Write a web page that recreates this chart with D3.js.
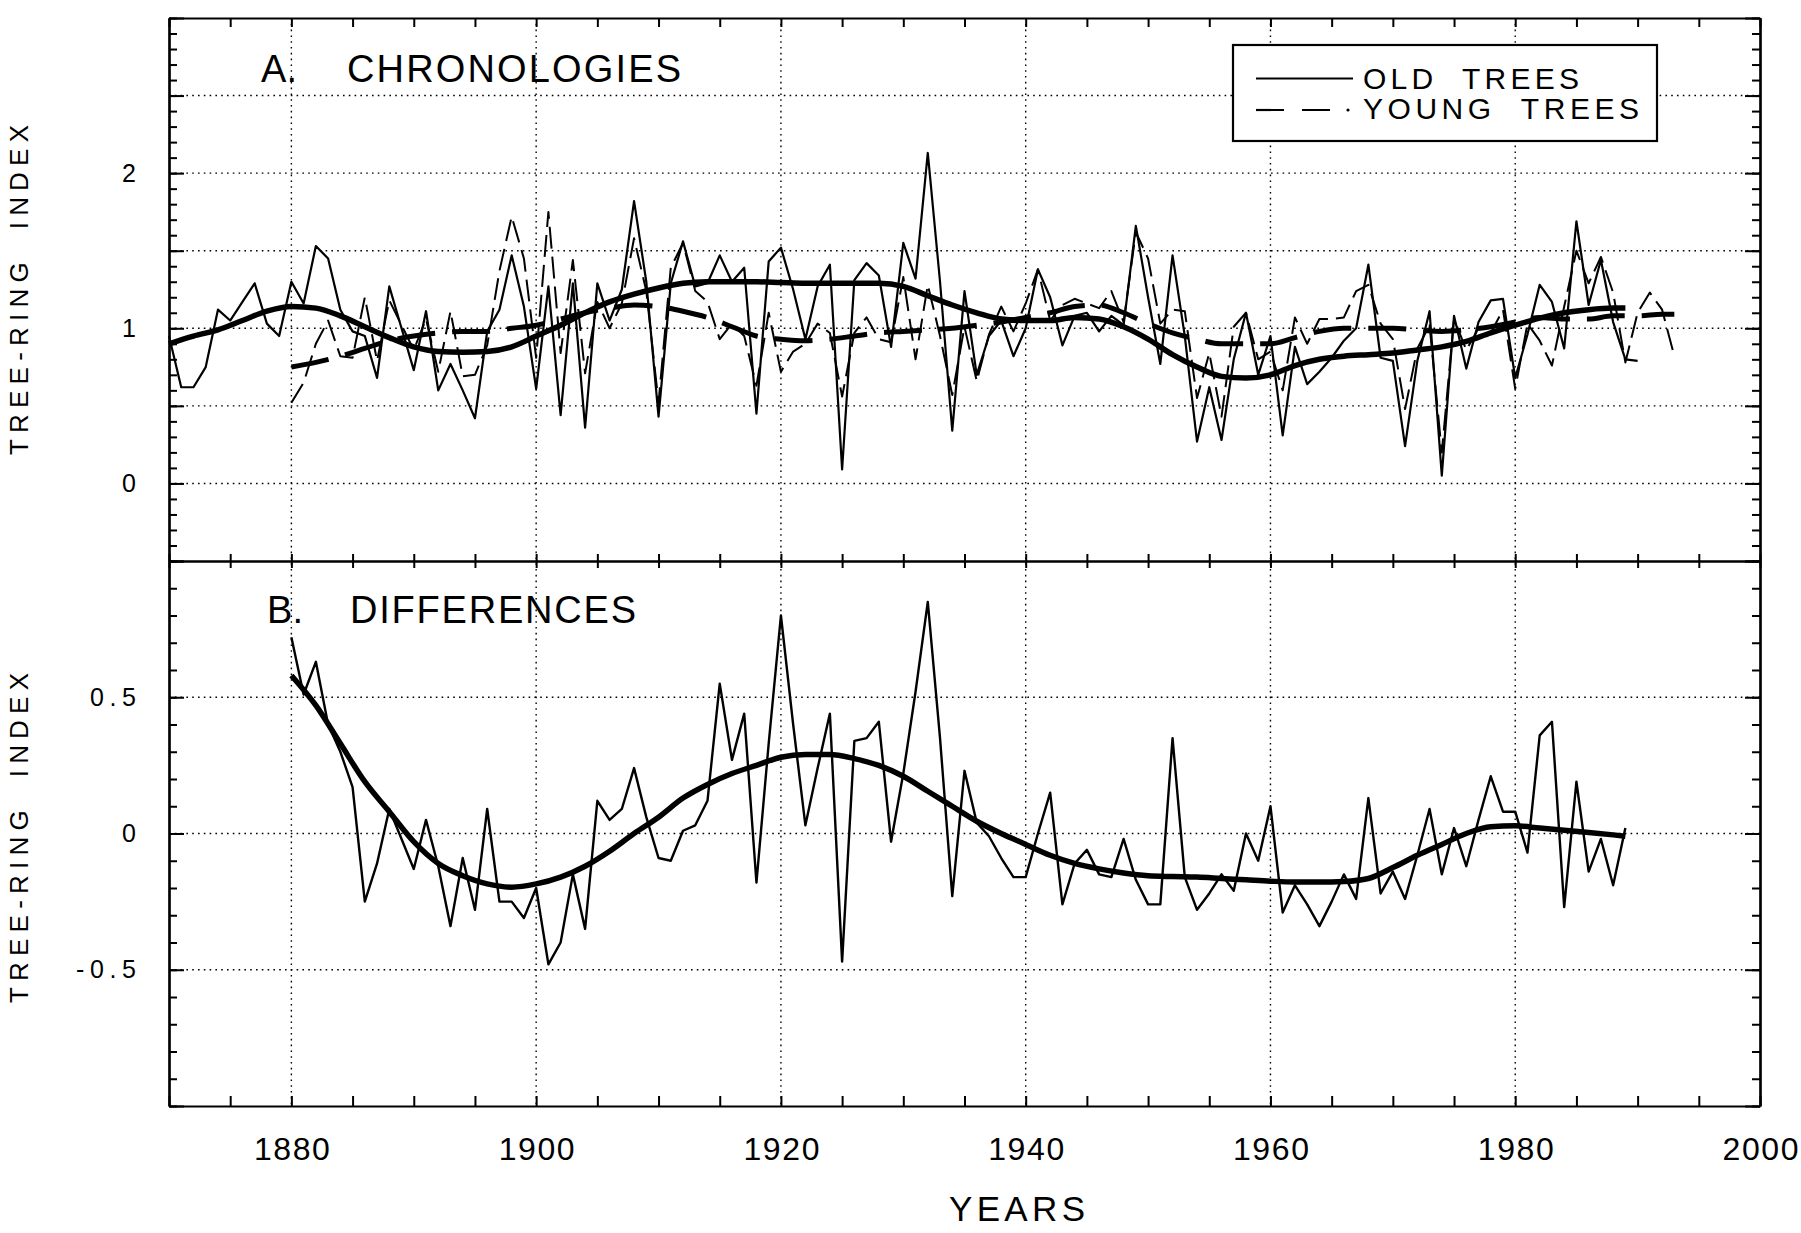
<!DOCTYPE html>
<html><head><meta charset="utf-8">
<script src="https://cdn.jsdelivr.net/npm/d3@7"></script>
<style>
html,body{margin:0;padding:0;background:#fff;}
svg{display:block;background:#fff;}
text{font-family:"Liberation Sans",Arial,Helvetica,sans-serif;fill:#000;white-space:pre;}
</style></head><body>
<svg id="chart" width="1801" height="1233"></svg>
<script>
// ---------------- DATA ----------------
const oldStart = 1870;
const oldTrees = [
  0.95,0.62,0.62,0.75,1.12,1.05,1.17,1.29,1.03,0.95,
  1.30,1.16,1.53,1.45,1.12,0.98,0.95,0.68,1.27,1.00,
  0.73,1.11,0.60,0.77,0.60,0.42,0.98,1.12,1.47,1.14,
  0.61,1.27,0.44,1.29,0.36,1.29,1.05,1.25,1.82,1.30,
  0.43,1.29,1.56,1.27,1.29,1.47,1.30,1.39,0.45,1.43,
  1.52,1.25,0.93,1.27,1.41,0.09,1.31,1.42,1.34,0.88,
  1.55,1.32,2.13,1.30,0.34,1.24,0.70,0.95,1.05,0.82,
  1.00,1.38,1.20,0.89,1.08,1.10,0.98,1.08,1.02,1.66,
  1.20,0.77,1.47,0.95,0.27,0.62,0.28,0.80,1.10,0.70,
  0.95,0.31,0.88,0.64,0.72,0.81,0.92,1.00,1.41,0.81,
  0.79,0.24,0.79,1.11,0.05,1.08,0.74,1.04,1.18,1.19,
  0.68,0.96,1.28,1.17,0.87,1.69,1.15,1.44,1.04,0.80,
  0.79
];
const youngStart = 1880;
const youngTrees = [
  0.52,0.65,0.90,1.05,0.82,0.81,1.20,0.79,1.18,1.02,
  0.86,1.06,0.72,1.11,0.69,0.70,0.89,1.37,1.72,1.45,
  0.81,1.75,0.84,1.44,0.71,1.17,1.00,1.16,1.58,1.24,
  0.52,1.39,1.55,1.24,1.17,0.93,1.03,0.95,0.63,1.10,
  0.72,0.85,0.90,1.03,0.97,0.56,0.97,1.07,0.93,0.91,
  1.33,0.80,1.28,0.95,0.57,1.01,0.66,0.96,1.14,0.98,
  1.16,1.38,1.05,1.15,1.19,1.16,1.13,1.24,1.04,1.62,
  1.45,1.03,1.12,1.11,0.55,0.84,0.43,1.01,1.10,0.80,
  0.85,0.60,1.07,0.90,1.06,1.06,1.07,1.24,1.28,1.03,
  0.93,0.48,0.87,1.02,0.20,1.06,0.86,1.00,0.97,1.12,
  0.61,1.03,0.92,0.76,1.14,1.50,1.29,1.46,1.23,0.78,
  1.10,1.23,1.12,0.82
];
const oldSmoothYears = [1870,1872,1874,1876,1878,1880,1882,1884,1886,1888,1890,1892,1894,1896,1898,1900,1902,1904,1906,1908,1910,1912,1914,1916,1918,1920,1922,1924,1926,1928,1930,1932,1934,1936,1938,1940,1942,1944,1946,1948,1950,1952,1954,1956,1958,1960,1962,1964,1966,1968,1970,1972,1974,1976,1978,1980,1982,1984,1986,1988,1989];
const oldSmooth = [0.90,0.95,0.99,1.05,1.11,1.14,1.13,1.08,1.01,0.94,0.88,0.85,0.845,0.85,0.88,0.95,1.02,1.10,1.17,1.22,1.26,1.29,1.30,1.30,1.30,1.295,1.29,1.29,1.29,1.29,1.27,1.21,1.15,1.10,1.06,1.05,1.05,1.07,1.06,1.01,0.93,0.83,0.75,0.69,0.68,0.70,0.76,0.80,0.82,0.83,0.84,0.86,0.88,0.915,0.97,1.02,1.065,1.10,1.12,1.13,1.13];
const youngSmoothYears = [1880,1882,1884,1886,1888,1890,1892,1894,1896,1898,1900,1902,1904,1906,1908,1910,1912,1914,1916,1918,1920,1922,1924,1926,1928,1930,1932,1934,1936,1938,1940,1942,1944,1946,1948,1950,1952,1954,1956,1958,1960,1962,1964,1966,1968,1970,1972,1974,1976,1978,1980,1982,1984,1986,1988,1990,1992,1993];
const youngSmooth = [0.75,0.78,0.82,0.87,0.92,0.95,0.97,0.98,0.98,1.00,1.02,1.06,1.10,1.13,1.15,1.14,1.11,1.07,1.01,0.95,0.93,0.92,0.93,0.95,0.97,0.98,0.99,1.00,1.02,1.04,1.07,1.10,1.14,1.15,1.10,1.03,0.97,0.93,0.90,0.90,0.90,0.94,0.98,1.00,1.00,1.00,0.99,0.98,0.99,1.01,1.04,1.07,1.06,1.06,1.08,1.08,1.09,1.09];
const diffStart = 1880;
const differences = [
  0.72,0.51,0.63,0.40,0.30,0.17,-0.25,-0.11,0.09,-0.02,
  -0.13,0.05,-0.12,-0.34,-0.09,-0.28,0.09,-0.25,-0.25,-0.31,
  -0.20,-0.48,-0.40,-0.15,-0.35,0.12,0.05,0.09,0.24,0.06,
  -0.09,-0.10,0.01,0.03,0.12,0.55,0.27,0.44,-0.18,0.33,
  0.80,0.40,0.03,0.24,0.44,-0.47,0.34,0.35,0.41,-0.03,
  0.22,0.52,0.85,0.35,-0.23,0.23,0.04,-0.01,-0.09,-0.16,
  -0.16,0.00,0.15,-0.26,-0.11,-0.06,-0.15,-0.16,-0.02,-0.17,
  -0.26,-0.26,0.35,-0.16,-0.28,-0.22,-0.15,-0.21,0.00,-0.10,
  0.10,-0.29,-0.19,-0.26,-0.34,-0.25,-0.15,-0.24,0.13,-0.22,
  -0.14,-0.24,-0.08,0.09,-0.15,0.02,-0.12,0.05,0.21,0.08,
  0.08,-0.07,0.36,0.41,-0.27,0.19,-0.14,-0.02,-0.19,0.02
];
const diffSmoothYears = [1880,1882,1884,1886,1888,1890,1892,1894,1896,1898,1900,1902,1904,1906,1908,1910,1912,1914,1916,1918,1920,1922,1924,1926,1928,1930,1932,1934,1936,1938,1940,1942,1944,1946,1948,1950,1952,1954,1956,1958,1960,1962,1964,1966,1968,1970,1972,1974,1976,1978,1980,1982,1984,1986,1988,1989];
const diffSmooth = [0.58,0.47,0.33,0.19,0.08,-0.03,-0.11,-0.155,-0.185,-0.197,-0.185,-0.16,-0.12,-0.065,0.0,0.06,0.13,0.18,0.22,0.25,0.28,0.29,0.29,0.275,0.25,0.21,0.155,0.10,0.045,0.0,-0.04,-0.08,-0.11,-0.13,-0.145,-0.155,-0.158,-0.16,-0.165,-0.17,-0.175,-0.178,-0.178,-0.176,-0.165,-0.125,-0.08,-0.04,0.0,0.025,0.028,0.02,0.012,0.004,-0.005,-0.01];

const xTickYears = [1880,1900,1920,1940,1960,1980,2000];
const xTickLabels = ["1880","1900","1920","1940","1960","1980","2000"];
const yTicksA = [0,1,2];
const yTickLabelsA = ["0","1","2"];
const yTicksB = [-0.5,0,0.5];
const yTickLabelsB = ["-0.5","0","0.5"];
const gridA = [0,0.5,1,1.5,2,2.5];
const gridB = [-0.5,0,0.5];
const gridYears = [1880,1900,1920,1940,1960,1980];
const seriesNames = ["OLD  TREES","YOUNG  TREES"];
const panelTitles = [["A.","CHRONOLOGIES"],["B.","DIFFERENCES"]];
const axisTitleX = "YEARS";
const axisTitleY = "TREE-RING  INDEX";

// ---------------- DRAW ----------------
const svg = d3.select('#chart');
svg.append('rect').attr('width',1801).attr('height',1233).attr('fill','#fff');

const x = d3.scaleLinear().domain([1870,2000]).range([169,1760]);
const yA = d3.scaleLinear().domain([-0.5,3]).range([561,18]);
const yB = d3.scaleLinear().domain([-1,1]).range([1106,561]);

const gridStyle = g => g.attr('stroke','#000').attr('stroke-width',1.4).attr('stroke-dasharray','1.6,4.2').attr('fill','none');

// grids
const gg = svg.append('g').call(gridStyle);
gridA.forEach(v => gg.append('line').attr('x1',x(1870)).attr('x2',x(2000)).attr('y1',yA(v)).attr('y2',yA(v)));
gridB.forEach(v => gg.append('line').attr('x1',x(1870)).attr('x2',x(2000)).attr('y1',yB(v)).attr('y2',yB(v)));
gridYears.forEach(yr => gg.append('line').attr('x1',x(yr)).attr('x2',x(yr)).attr('y1',yA.range()[1]).attr('y2',yB.range()[0]));

// axes helper
function styleAxis(g){
  g.selectAll('path.domain').attr('stroke','#000').attr('stroke-width',2.2);
  g.selectAll('.tick line').attr('stroke','#000').attr('stroke-width',2);
  g.selectAll('.tick text').remove();
}
const rng = (a,b,s) => d3.range(Math.round(a/s), Math.round(b/s)+1).map(i => +(i*s).toFixed(3));

// left / right axes panel A
svg.append('g').attr('transform','translate(169,0)')
  .call(d3.axisRight(yA).tickValues(rng(-0.5,3,0.1)).tickSize(8).tickSizeOuter(0)).call(styleAxis);
svg.append('g').attr('transform','translate(169,0)')
  .call(d3.axisRight(yA).tickValues(rng(-0.5,3,0.5)).tickSize(15).tickSizeOuter(0)).call(styleAxis);
svg.append('g').attr('transform','translate(1760,0)')
  .call(d3.axisLeft(yA).tickValues(rng(-0.5,3,0.1)).tickSize(8).tickSizeOuter(0)).call(styleAxis);
svg.append('g').attr('transform','translate(1760,0)')
  .call(d3.axisLeft(yA).tickValues(rng(-0.5,3,0.5)).tickSize(15).tickSizeOuter(0)).call(styleAxis);
// panel B
svg.append('g').attr('transform','translate(169,0)')
  .call(d3.axisRight(yB).tickValues(rng(-1,1,0.1)).tickSize(8).tickSizeOuter(0)).call(styleAxis);
svg.append('g').attr('transform','translate(169,0)')
  .call(d3.axisRight(yB).tickValues(rng(-1,1,0.5)).tickSize(15).tickSizeOuter(0)).call(styleAxis);
svg.append('g').attr('transform','translate(1760,0)')
  .call(d3.axisLeft(yB).tickValues(rng(-1,1,0.1)).tickSize(8).tickSizeOuter(0)).call(styleAxis);
svg.append('g').attr('transform','translate(1760,0)')
  .call(d3.axisLeft(yB).tickValues(rng(-1,1,0.5)).tickSize(15).tickSizeOuter(0)).call(styleAxis);
// top, divider, bottom
const yrTicks = rng(1870,2000,5);
svg.append('g').attr('transform','translate(0,18)')
  .call(d3.axisBottom(x).tickValues(yrTicks).tickSize(9).tickSizeOuter(0)).call(styleAxis);
svg.append('g').attr('transform','translate(0,561)')
  .call(d3.axisBottom(x).tickValues(yrTicks).tickSize(7).tickSizeOuter(0)).call(styleAxis);
svg.append('g').attr('transform','translate(0,561)')
  .call(d3.axisTop(x).tickValues(yrTicks).tickSize(7).tickSizeOuter(0)).call(styleAxis);
svg.append('g').attr('transform','translate(0,1106)')
  .call(d3.axisTop(x).tickValues(yrTicks).tickSize(10).tickSizeOuter(0)).call(styleAxis);

// tick labels via axes
const xl = svg.append('g').attr('transform','translate(0,1106)')
  .call(d3.axisBottom(x).tickValues(xTickYears).tickSize(0).tickPadding(31).tickFormat((d,i)=>xTickLabels[i]));
xl.select('path.domain').remove();
xl.selectAll('text').attr('font-size',32).attr('font-family','"Liberation Sans",Arial,sans-serif')
  .attr('textLength',76).attr('lengthAdjust','spacing');

const ylA = svg.append('g').attr('transform','translate(136,0)')
  .call(d3.axisLeft(yA).tickValues(yTicksA).tickSize(0).tickPadding(0).tickFormat((d,i)=>yTickLabelsA[i]));
ylA.select('path.domain').remove();
ylA.selectAll('text').attr('font-size',25).attr('font-family','"Liberation Sans",Arial,sans-serif');
const ylB = svg.append('g').attr('transform','translate(136,0)')
  .call(d3.axisLeft(yB).tickValues(yTicksB).tickSize(0).tickPadding(0).tickFormat((d,i)=>yTickLabelsB[i]));
ylB.select('path.domain').remove();
ylB.selectAll('text').attr('font-size',25).attr('font-family','"Liberation Sans",Arial,sans-serif')
  .attr('textLength',(d,i)=> yTickLabelsB[i].length===4 ? 60 : (yTickLabelsB[i].length===3 ? 46 : null))
  .attr('lengthAdjust','spacing');

// series
const pairs = (start, vals) => vals.map((v,i)=>[start+i, v]);
const zipYV = (ys, vs) => ys.map((y,i)=>[y, vs[i]]);
const lineA = d3.line().x(d=>x(d[0])).y(d=>yA(d[1]));
const lineB = d3.line().x(d=>x(d[0])).y(d=>yB(d[1]));
const smoothA = d3.line().x(d=>x(d[0])).y(d=>yA(d[1])).curve(d3.curveMonotoneX);
const smoothB = d3.line().x(d=>x(d[0])).y(d=>yB(d[1])).curve(d3.curveMonotoneX);

const lines = svg.append('g').attr('fill','none').attr('stroke','#000').attr('stroke-linejoin','round');
lines.append('path').attr('d', lineA(pairs(youngStart, youngTrees))).attr('stroke-width',2).attr('stroke-dasharray','22,8');
lines.append('path').attr('d', lineA(pairs(oldStart, oldTrees))).attr('stroke-width',2.2);
lines.append('path').attr('d', smoothA(zipYV(youngSmoothYears, youngSmooth))).attr('stroke-width',5).attr('stroke-dasharray','38,17');
lines.append('path').attr('d', smoothA(zipYV(oldSmoothYears, oldSmooth))).attr('stroke-width',5.5);
lines.append('path').attr('d', lineB(pairs(diffStart, differences))).attr('stroke-width',2.4);
lines.append('path').attr('d', smoothB(zipYV(diffSmoothYears, diffSmooth))).attr('stroke-width',5.5);

// panel titles
const titleY = [82, 623];
const titleX = [[261,347],[267,350]];
const titleW = [[36,334],[36,286]];
panelTitles.forEach((t,p)=>{
  t.forEach((s,j)=>{
    svg.append('text').attr('x',titleX[p][j]).attr('y',titleY[p]).attr('font-size',38)
      .attr('textLength',titleW[p][j]).attr('lengthAdjust','spacing').text(s);
  });
});

// legend
const lg = svg.append('g');
lg.append('rect').attr('x',1233).attr('y',45).attr('width',424).attr('height',96)
  .attr('fill','#fff').attr('stroke','#000').attr('stroke-width',2.2);
lg.append('line').attr('x1',1256).attr('x2',1353).attr('y1',78.5).attr('y2',78.5).attr('stroke','#000').attr('stroke-width',2.2);
lg.append('line').attr('x1',1256).attr('x2',1334).attr('y1',110).attr('y2',110).attr('stroke','#000').attr('stroke-width',2.2).attr('stroke-dasharray','28,18');
lg.append('circle').attr('cx',1348).attr('cy',110).attr('r',1.6).attr('fill','#000');
const legY = [89,119];
const legW = [216,276];
seriesNames.forEach((n,i)=>{
  lg.append('text').attr('x',1363).attr('y',legY[i]).attr('font-size',30)
    .attr('textLength',legW[i]).attr('lengthAdjust','spacing').text(n);
});

// axis titles
svg.append('text').attr('x',1017).attr('y',1221).attr('text-anchor','middle').attr('font-size',35)
  .attr('textLength',136).attr('lengthAdjust','spacing').text(axisTitleX);
[290, 838].forEach(cy=>{
  svg.append('text').attr('transform',`translate(28,${cy}) rotate(-90)`).attr('text-anchor','middle')
    .attr('font-size',26).attr('textLength',330).attr('lengthAdjust','spacing').text(axisTitleY);
});
</script>
</body></html>
